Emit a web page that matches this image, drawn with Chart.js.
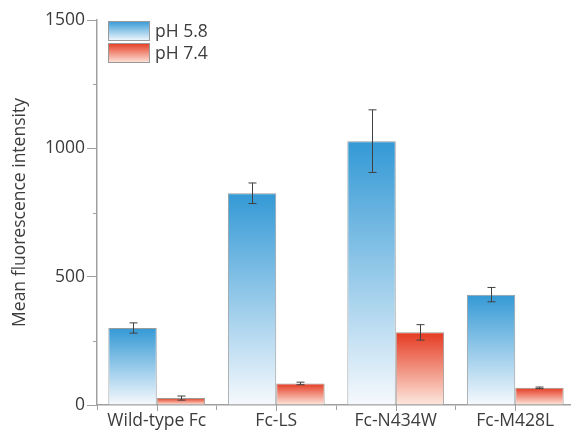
<!DOCTYPE html>
<html>
<head>
<meta charset="utf-8">
<script src="https://cdn.jsdelivr.net/npm/chart.js@4/dist/chart.umd.min.js"></script>
<style>
html,body{margin:0;padding:0;background:#fff;overflow:hidden;}
#wrap{position:relative;width:577px;height:439px;}
</style>
</head>
<body>
<div id="wrap"><canvas id="c"></canvas></div>
<script>
const categories = ['Wild-type Fc', 'Fc-LS', 'Fc-N434W', 'Fc-M428L'];
const seriesNames = ['pH 5.8', 'pH 7.4'];
const ph58 = [300, 825, 1028, 430];
const ph58Err = [20, 40, 122, 28];
const ph74 = [27, 84, 283, 67];
const ph74Err = [8, 5, 30, 3];
const yTicks = [0, 500, 1000, 1500];
const yMinorTicks = [250, 750, 1250];

const FONT = "'Open Sans', 'Segoe UI', sans-serif";
const FS = 17.5;
const TXT = '#3c3c3c';
const AXIS = '#a0a0a0';
const BLUE = ['#3399d5', '#f6f9fd'];
const RED = ['#e53a21', '#fde8de'];

function grad(stops) {
  return function(ctx) {
    const chart = ctx.chart;
    if (ctx.type !== 'data' || !chart.chartArea) return stops[0];
    const y = chart.scales.y;
    const top = y.getPixelForValue(ctx.raw);
    const base = y.getPixelForValue(0);
    if (!isFinite(top) || !isFinite(base) || Math.abs(base - top) < 1) return stops[0];
    const g = chart.ctx.createLinearGradient(0, top, 0, base);
    g.addColorStop(0, stops[0]);
    g.addColorStop(1, stops[1]);
    return g;
  };
}

const errorBars = {
  id: 'errorBars',
  afterDatasetsDraw(chart) {
    const c = chart.ctx, y = chart.scales.y;
    const errs = [ph58Err, ph74Err];
    c.save();
    c.strokeStyle = '#404040';
    c.lineWidth = 1;
    chart.data.datasets.forEach((ds, di) => {
      const meta = chart.getDatasetMeta(di);
      meta.data.forEach((bar, i) => {
        const v = ds.data[i], e = errs[di][i];
        const x = Math.round(bar.x) + 0.5;
        const t = y.getPixelForValue(v + e), b = y.getPixelForValue(v - e);
        c.beginPath();
        c.moveTo(x, t); c.lineTo(x, b);
        c.moveTo(x - 4, t); c.lineTo(x + 4, t);
        c.moveTo(x - 4, b); c.lineTo(x + 4, b);
        c.stroke();
      });
    });
    c.restore();
  }
};

const extras = {
  id: 'extras',
  afterDraw(chart) {
    const c = chart.ctx, y = chart.scales.y, x = chart.scales.x;
    const area = chart.chartArea;
    c.save();
    c.strokeStyle = AXIS;
    c.lineWidth = 1;
    yMinorTicks.forEach(v => {
      const py = Math.round(y.getPixelForValue(v)) + 0.5;
      c.beginPath(); c.moveTo(area.left - 4, py); c.lineTo(area.left, py); c.stroke();
    });
    categories.forEach((cat, i) => {
      const px = Math.round(x.getPixelForValue(i)) + 0.5;
      c.beginPath(); c.moveTo(px, area.bottom); c.lineTo(px, area.bottom + 6); c.stroke();
    });
    const lx = 108, ly = [21, 43], bw = 42, bh = 20;
    const stops = [BLUE, RED];
    seriesNames.forEach((name, i) => {
      const g = c.createLinearGradient(0, ly[i], 0, ly[i] + bh);
      g.addColorStop(0, stops[i][0]);
      g.addColorStop(1, stops[i][1]);
      c.fillStyle = g;
      c.fillRect(lx, ly[i], bw, bh);
      c.strokeStyle = '#9a9a9a';
      c.strokeRect(lx + 0.5, ly[i] + 0.5, bw - 1, bh - 1);
      c.fillStyle = TXT;
      c.font = FS + 'px ' + FONT;
      c.textBaseline = 'middle';
      c.textAlign = 'left';
      c.fillText(name, lx + bw + 5, ly[i] + bh / 2 + 1);
    });
    c.restore();
  }
};

new Chart(document.getElementById('c'), {
  type: 'bar',
  data: {
    labels: categories,
    datasets: [
      { label: seriesNames[0], data: ph58, backgroundColor: grad(BLUE), borderColor: '#9a9a9a', borderWidth: 1 },
      { label: seriesNames[1], data: ph74, backgroundColor: grad(RED), borderColor: '#9a9a9a', borderWidth: 1 }
    ]
  },
  options: {
    responsive: true,
    maintainAspectRatio: false,
    animation: false,
    devicePixelRatio: 1,
    layout: { padding: { top: 20, right: 2, left: 0, bottom: 0 } },
    datasets: { bar: { categoryPercentage: 0.81, barPercentage: 1.0 } },
    plugins: { legend: { display: false }, tooltip: { enabled: false } },
    scales: {
      x: {
        grid: { display: true, offset: true, drawOnChartArea: false, tickLength: 5, color: AXIS },
        border: { display: true, color: AXIS, width: 1.5 },
        ticks: { color: TXT, font: { family: FONT, size: FS }, padding: 1, maxRotation: 0 },
        afterFit(s) { s.height = 34; }
      },
      y: {
        min: 0, max: 1500,
        afterBuildTicks(s) { s.ticks = yTicks.map(v => ({ value: v })); },
        grid: { display: true, drawOnChartArea: false, tickLength: 10, color: AXIS },
        border: { display: true, color: AXIS, width: 1.5 },
        ticks: { color: TXT, font: { family: FONT, size: FS }, padding: 2, callback: v => String(v) },
        title: { display: true, text: 'Mean fluorescence intensity', color: TXT, font: { family: FONT, size: FS }, padding: { top: 10, bottom: 0 } },
        afterFit(s) { s.width = 97; }
      }
    }
  },
  plugins: [errorBars, extras]
});
</script>
</body>
</html>
